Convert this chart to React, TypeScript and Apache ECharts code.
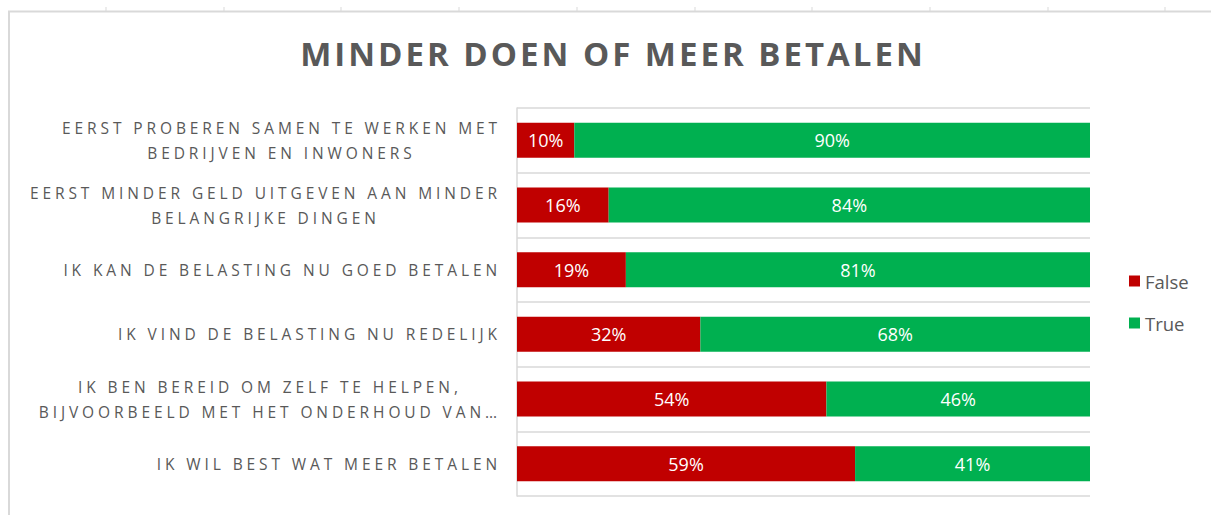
import React, { useEffect, useRef } from "react";
import * as echarts from "echarts";

const chartTitle = "MINDER DOEN OF MEER BETALEN";
const categories = [
  "EERST PROBEREN SAMEN TE WERKEN MET\nBEDRIJVEN EN INWONERS",
  "EERST MINDER GELD UITGEVEN AAN MINDER\nBELANGRIJKE DINGEN",
  "IK KAN DE BELASTING NU GOED BETALEN",
  "IK VIND DE BELASTING NU REDELIJK",
  "IK BEN BEREID OM ZELF TE HELPEN,\nBIJVOORBEELD MET HET ONDERHOUD VAN…",
  "IK WIL BEST WAT MEER BETALEN",
];
const seriesNames = ["False", "True"];
const falseValues = [10, 16, 19, 32, 54, 59];
const trueValues = [90, 84, 81, 68, 46, 41];

const GRAY = "#595959";
const LINE = "#d9d9d9";
const FONT = "'Open Sans', 'Noto Sans', sans-serif";

function tweakTexts(root: HTMLElement) {
  const texts = Array.from(root.querySelectorAll("text")) as SVGTextElement[];
  const labelLines = new Set<string>();
  categories.forEach((c) => c.split("\n").forEach((l) => labelLines.add(l)));
  texts.forEach((t) => {
    const s = t.textContent || "";
    if (s === chartTitle) t.style.letterSpacing = "3px";
    else if (labelLines.has(s)) t.style.letterSpacing = "3.9px";
  });
  categories.forEach((c) => {
    const lines = c.split("\n");
    if (lines.length < 2) return;
    const els = lines.map((l) => texts.find((t) => t.textContent === l));
    if (els.some((e) => !e)) return;
    const lens = els.map((e) => (e as SVGTextElement).getComputedTextLength());
    const max = Math.max(...lens);
    els.forEach((e, i) => {
      const el = e as SVGTextElement;
      if (el.getAttribute("data-centred")) return;
      const x = parseFloat(el.getAttribute("x") || "0");
      el.setAttribute("x", String(x - (max - lens[i]) / 2));
      el.setAttribute("data-centred", "1");
    });
  });
}

export default function App() {
  const ref = useRef<HTMLDivElement>(null);
  useEffect(() => {
    if (!ref.current) return;
    const chart = echarts.init(ref.current, undefined, { renderer: "svg" });
    const sheetTicks = [106, 224, 341, 459, 577, 695, 812, 930, 1048, 1165];
    const labelStyle = {
      show: true,
      position: "inside",
      formatter: "{c}%",
      color: "#ffffff",
      fontFamily: FONT,
      fontSize: 18,
      textBorderWidth: 0,
    };
    chart.setOption({
      animation: false,
      title: {
        text: chartTitle,
        left: 613,
        top: 37,
        padding: 0,
        textAlign: "center",
        textStyle: { fontFamily: FONT, fontWeight: "bold", fontSize: 33, color: GRAY },
      },
      legend: {
        orient: "vertical",
        left: 1129,
        top: 271,
        padding: 0,
        itemWidth: 11,
        itemHeight: 11,
        itemGap: 22,
        icon: "rect",
        data: seriesNames,
        textStyle: { fontFamily: FONT, fontSize: 18.5, color: GRAY, lineHeight: 20 },
      },
      graphic: [
        {
          type: "rect",
          silent: true,
          shape: { x: 9, y: 11.5, width: 1230, height: 540 },
          style: { fill: "none", stroke: LINE, lineWidth: 2 },
        },
        ...sheetTicks.map((x) => ({
          type: "line",
          silent: true,
          shape: { x1: x, y1: 7, x2: x, y2: 11 },
          style: { stroke: LINE, lineWidth: 1 },
        })),
      ],
      grid: { left: 517, top: 108, width: 573, height: 388, containLabel: false, outerBoundsMode: "none" },
      xAxis: { type: "value", min: 0, max: 100, show: false },
      yAxis: {
        type: "category",
        inverse: true,
        data: categories,
        axisLine: { show: true, lineStyle: { color: LINE, width: 1.5 } },
        axisTick: { show: false },
        splitLine: { show: true, lineStyle: { color: LINE, width: 1.5 } },
        axisLabel: {
          interval: 0,
          margin: 16,
          color: GRAY,
          fontFamily: FONT,
          fontSize: 15.5,
          lineHeight: 25,
          align: "right",
        },
      },
      series: [
        {
          name: seriesNames[0],
          type: "bar",
          stack: "total",
          data: falseValues,
          barWidth: "54%",
          itemStyle: { color: "#C00000" },
          label: labelStyle,
        },
        {
          name: seriesNames[1],
          type: "bar",
          stack: "total",
          data: trueValues,
          barWidth: "54%",
          itemStyle: { color: "#00B050" },
          label: labelStyle,
        },
      ],
    });
    const root = ref.current;
    tweakTexts(root);
    chart.on("finished", () => tweakTexts(root));
    const raf = requestAnimationFrame(() => tweakTexts(root));
    return () => {
      cancelAnimationFrame(raf);
      chart.dispose();
    };
  }, []);
  return (
    <div
      ref={ref}
      style={{ position: "fixed", left: 0, top: 0, width: 1211, height: 515, background: "#ffffff" }}
    />
  );
}
